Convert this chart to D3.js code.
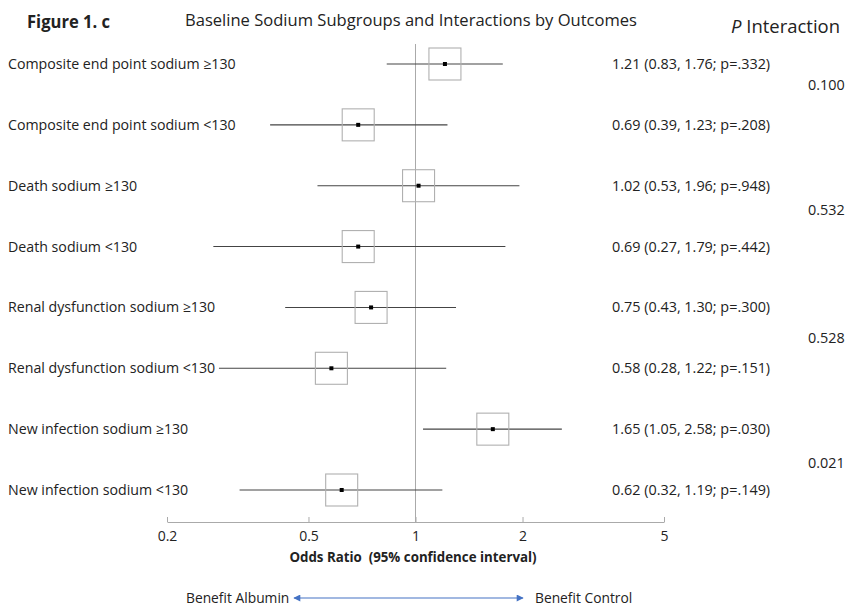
<!DOCTYPE html>
<html>
<head>
<meta charset="utf-8">
<script src="https://cdn.jsdelivr.net/npm/d3@7"></script>
<style>
  html, body { margin: 0; padding: 0; background: #fff; }
  svg { display: block; font-family: "Open Sans", "Noto Sans", sans-serif; }
</style>
</head>
<body>
<svg id="chart" width="849" height="608"></svg>
<script>
// Subgroup rows, top to bottom
const labels = [
  "Composite end point sodium \u2265130",
  "Composite end point sodium <130",
  "Death sodium \u2265130",
  "Death sodium <130",
  "Renal dysfunction sodium \u2265130",
  "Renal dysfunction sodium <130",
  "New infection sodium \u2265130",
  "New infection sodium <130"
];
const oddsRatio = [1.21, 0.69, 1.02, 0.69, 0.75, 0.58, 1.65, 0.62];
const ciLower   = [0.83, 0.39, 0.53, 0.27, 0.43, 0.28, 1.05, 0.32];
const ciUpper   = [1.76, 1.23, 1.96, 1.79, 1.30, 1.22, 2.58, 1.19];
const pValues   = [".332", ".208", ".948", ".442", ".300", ".151", ".030", ".149"];

// Interaction p-values, one per outcome pair
const pInteraction = ["0.100", "0.532", "0.528", "0.021"];
const pInteractionRow = [0.35, 2.4, 4.5, 6.55];   // row position (in row units)

const tickValues = [0.2, 0.5, 1, 2, 5];

const svg = d3.select("#chart");
const textColor = "#222";

const x = d3.scaleLog().domain([0.2, 5]).range([167, 664]);
const y = d3.scaleLinear().domain([0, labels.length - 1]).range([64, 490]);

// Titles
svg.append("text").attr("x", 27).attr("y", 28)
  .attr("font-size", 17).attr("font-weight", "bold").attr("fill", textColor)
  .attr("textLength", 83).attr("lengthAdjust", "spacingAndGlyphs")
  .text("Figure 1. c");
svg.append("text").attr("x", 185).attr("y", 26)
  .attr("font-size", 16.3).attr("fill", textColor)
  .attr("textLength", 452).attr("lengthAdjust", "spacingAndGlyphs")
  .text("Baseline Sodium Subgroups and Interactions by Outcomes");
const pHead = svg.append("text").attr("x", 731).attr("y", 33)
  .attr("font-size", 17.5).attr("fill", textColor)
  .attr("textLength", 109).attr("lengthAdjust", "spacingAndGlyphs");
pHead.append("tspan").attr("font-style", "italic").text("P");
pHead.append("tspan").text(" Interaction");

// Reference line at OR = 1
svg.append("line")
  .attr("x1", x(1)).attr("x2", x(1))
  .attr("y1", 44).attr("y2", 522)
  .attr("stroke", "#aaa").attr("stroke-width", 1);

// Axis
const axis = d3.axisBottom(x).tickValues(tickValues)
  .tickFormat(d => String(d)).tickSizeInner(-5).tickSizeOuter(0);
const gAxis = svg.append("g").attr("transform", "translate(0,522)").call(axis);
gAxis.select(".domain").attr("stroke", "#aaa");
gAxis.selectAll(".tick line").attr("stroke", "#aaa");
gAxis.selectAll(".tick text").attr("font-size", 14).attr("fill", textColor)
  .attr("font-family", "Open Sans, sans-serif").attr("dy", "0.85em").attr("y", 7);

svg.append("text").attr("x", 413).attr("y", 562)
  .attr("text-anchor", "middle").attr("font-size", 13.3).attr("font-weight", "bold")
  .attr("fill", textColor).attr("xml:space", "preserve")
  .text("Odds Ratio  (95% confidence interval)");

// Rows
const rows = svg.append("g").selectAll("g").data(labels).join("g");

rows.append("text")
  .attr("x", 8).attr("y", (d, i) => y(i) + 5)
  .attr("font-size", 14.2).attr("fill", textColor)
  .text(d => d);

rows.append("line")
  .attr("x1", (d, i) => x(ciLower[i])).attr("x2", (d, i) => x(ciUpper[i]))
  .attr("y1", (d, i) => y(i)).attr("y2", (d, i) => y(i))
  .attr("stroke", "#444").attr("stroke-width", 1.1);

const box = 32;
rows.append("rect")
  .attr("x", (d, i) => x(oddsRatio[i]) - box / 2)
  .attr("y", (d, i) => y(i) - box / 2)
  .attr("width", box).attr("height", box)
  .attr("fill", "none").attr("stroke", "#b0b0b0").attr("stroke-width", 1.1);

rows.append("rect")
  .attr("x", (d, i) => x(oddsRatio[i]) - 2)
  .attr("y", (d, i) => y(i) - 2)
  .attr("width", 4).attr("height", 4)
  .attr("fill", "#000");

rows.append("text")
  .attr("x", 612).attr("y", (d, i) => y(i) + 5)
  .attr("font-size", 14.4).attr("fill", textColor)
  .text((d, i) => `${oddsRatio[i].toFixed(2)} (${ciLower[i].toFixed(2)}, ${ciUpper[i].toFixed(2)}; p=${pValues[i]})`);

// Interaction p-values
svg.append("g").selectAll("text").data(pInteraction).join("text")
  .attr("x", 808).attr("y", (d, i) => y(pInteractionRow[i]) + 5)
  .attr("font-size", 14.4).attr("fill", textColor)
  .text(d => d);

// Direction arrow
const defs = svg.append("defs");
defs.append("marker").attr("id", "arrowHead")
  .attr("viewBox", "0 0 10 10").attr("refX", 9).attr("refY", 5)
  .attr("markerWidth", 9).attr("markerHeight", 7)
  .attr("markerUnits", "userSpaceOnUse")
  .attr("orient", "auto-start-reverse")
  .append("path").attr("d", "M0,0 L10,5 L0,10 Z").attr("fill", "#4472c4");

svg.append("line")
  .attr("x1", 294).attr("x2", 523).attr("y1", 598).attr("y2", 598)
  .attr("stroke", "#4472c4").attr("stroke-width", 1.2)
  .attr("marker-start", "url(#arrowHead)").attr("marker-end", "url(#arrowHead)");

svg.append("text").attr("x", 186).attr("y", 603)
  .attr("font-size", 13.8).attr("fill", textColor).text("Benefit Albumin");
svg.append("text").attr("x", 535).attr("y", 603)
  .attr("font-size", 13.8).attr("fill", textColor).text("Benefit Control");
</script>
</body>
</html>
